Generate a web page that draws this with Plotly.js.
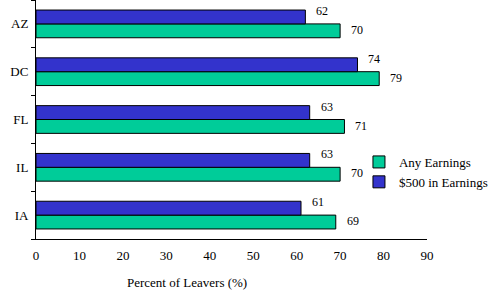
<!DOCTYPE html>
<html>
<head>
<meta charset="utf-8">
<script src="https://cdn.plot.ly/plotly-3.0.1.min.js"></script>
<style>
  html, body { margin: 0; padding: 0; background: #fff; }
  #chart { width: 493px; height: 292px; }
</style>
</head>
<body>
<div id="chart"></div>
<script>
// states, top to bottom as in the picture
const states = ['AZ', 'DC', 'FL', 'IL', 'IA'];
const anyEarnings = [70, 79, 71, 70, 69];
const earnings500 = [62, 74, 63, 63, 61];
const xTicks = [0, 10, 20, 30, 40, 50, 60, 70, 80, 90];

const serif = 'Liberation Serif, Times New Roman, serif';
const colors = { green: '#00CC99', blue: '#3333CC' };

// value labels next to each bar end
const labels = [];
states.forEach((s, i) => {
    labels.push({ x: earnings500[i], y: s, text: String(earnings500[i]),
        xanchor: 'left', yanchor: 'middle', xshift: 9, yshift: 13, showarrow: false });
    labels.push({ x: anyEarnings[i], y: s, text: String(anyEarnings[i]),
        xanchor: 'left', yanchor: 'middle', xshift: 9, yshift: -6, showarrow: false });
});

// axis title sits left of the plot centre in the original
labels.push({
    text: 'Percent of Leavers (%)', xref: 'paper', yref: 'paper',
    x: 0.386, y: -0.18, xanchor: 'center', yanchor: 'middle', showarrow: false,
    font: { family: serif, size: 13 }
});

const traces = [
    {
        name: 'Any Earnings',
        type: 'bar',
        orientation: 'h',
        y: states,
        x: anyEarnings,
        marker: { color: colors.green, line: { color: '#000', width: 1 } },
        hoverinfo: 'skip'
    },
    {
        name: '$500 in Earnings',
        type: 'bar',
        orientation: 'h',
        y: states,
        x: earnings500,
        marker: { color: colors.blue, line: { color: '#000', width: 1 } },
        hoverinfo: 'skip'
    }
];

const layout = {
    width: 493,
    height: 292,
    margin: { l: 36, r: 66, t: 0, b: 53, autoexpand: false },
    paper_bgcolor: '#fff',
    plot_bgcolor: '#fff',
    font: { family: serif, size: 12, color: '#000' },
    barmode: 'group',
    bargap: 0.42,
    bargroupgap: 0,
    xaxis: {
        range: [0, 90],
        tickvals: xTicks,
        ticktext: xTicks.map(String),
        showgrid: false,
        zeroline: false,
        showline: true,
        linecolor: '#000',
        linewidth: 1,
        ticks: '',
        ticklabelstandoff: 4,
        tickfont: { family: serif, size: 13 }
    },
    yaxis: {
        type: 'category',
        categoryorder: 'array',
        categoryarray: states.slice().reverse(),
        showgrid: false,
        zeroline: false,
        showline: true,
        linecolor: '#000',
        linewidth: 1,
        ticks: 'outside',
        tickson: 'boundaries',
        ticklen: 4,
        tickcolor: '#000',
        ticklabelstandoff: 4,
        tickfont: { family: serif, size: 13 }
    },
    legend: {
        x: 0.826,
        y: 0.385,
        xanchor: 'left',
        yanchor: 'top',
        bgcolor: 'rgba(0,0,0,0)',
        traceorder: 'normal',
        itemwidth: 30,
        font: { family: serif, size: 13 }
    },
    annotations: labels,
    showlegend: true
};

Plotly.newPlot('chart', traces, layout, { displayModeBar: false, staticPlot: true });
</script>
</body>
</html>
